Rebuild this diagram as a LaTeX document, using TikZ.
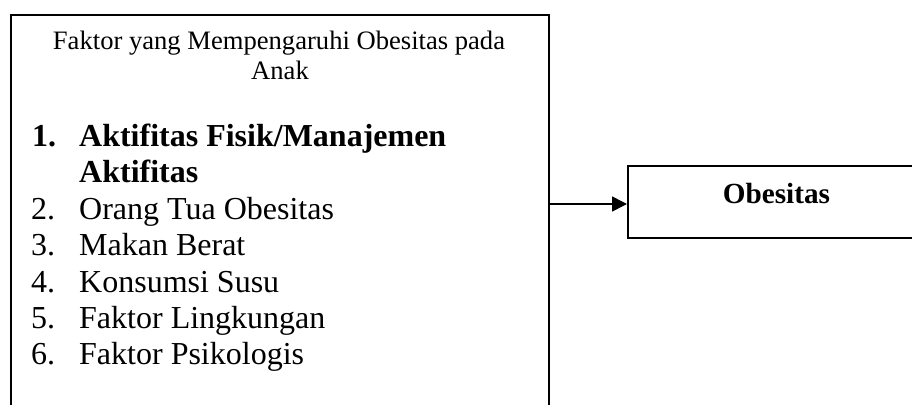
\documentclass[tikz,border=0pt]{standalone}
\usepackage{fontspec}
\setmainfont{Liberation Serif}
\usetikzlibrary{arrows.meta}
\begin{document}
\begin{tikzpicture}[x=1pt,y=-1pt,
  leftbox/.style={draw,line width=1.8pt,inner sep=0pt,anchor=north west,minimum width=538pt,minimum height=420pt},
  rightbox/.style={draw,line width=1.6pt,inner sep=0pt,anchor=north west,minimum width=300pt,minimum height=72pt},
  titletxt/.style={inner sep=0pt,anchor=base,font=\fontsize{26.6}{30}\selectfont},
  itemtxt/.style={inner sep=0pt,anchor=base west,font=\fontsize{32}{36}\selectfont},
  boldtxt/.style={itemtxt,font=\fontsize{32}{36}\selectfont\bfseries},
  obestxt/.style={inner sep=0pt,anchor=base,font=\fontsize{29.2}{33}\selectfont\bfseries},
  conn/.style={line width=1.6pt,-{Triangle[length=15pt,width=15pt]}}]
\useasboundingbox (0,0) rectangle (912,404);
\clip (0,0) rectangle (912,404);
\fill[white] (0,0) rectangle (912,404);
\node[leftbox] (factors) at (10,14) {};
\node[rightbox] (obes) at (627,165) {};
\node[titletxt] (title1) at (279,50) {Faktor yang Mempengaruhi Obesitas pada};
\node[titletxt] (title2) at (280,79) {Anak};
\node[boldtxt] (item1) at (32,146.5) {\makebox[47pt][l]{1.}Aktifitas Fisik/Manajemen};
\node[boldtxt] (item1b) at (79,182.9) {Aktifitas};
\node[itemtxt] (item2) at (31,219.3) {\makebox[48pt][l]{2.}Orang Tua Obesitas};
\node[itemtxt] (item3) at (31,255.7) {\makebox[48pt][l]{3.}Makan Berat};
\node[itemtxt] (item4) at (31,292.1) {\makebox[48pt][l]{4.}Konsumsi Susu};
\node[itemtxt] (item5) at (31,328.5) {\makebox[48pt][l]{5.}Faktor Lingkungan};
\node[itemtxt] (item6) at (31,364.9) {\makebox[48pt][l]{6.}Faktor Psikologis};
\node[obestxt] (obeslabel) at (776.5,203) {Obesitas};
\coordinate (arrowrow) at (0,204);
\draw[conn] (factors.east |- arrowrow) -- (obes.west |- arrowrow);
\end{tikzpicture}
\end{document}
